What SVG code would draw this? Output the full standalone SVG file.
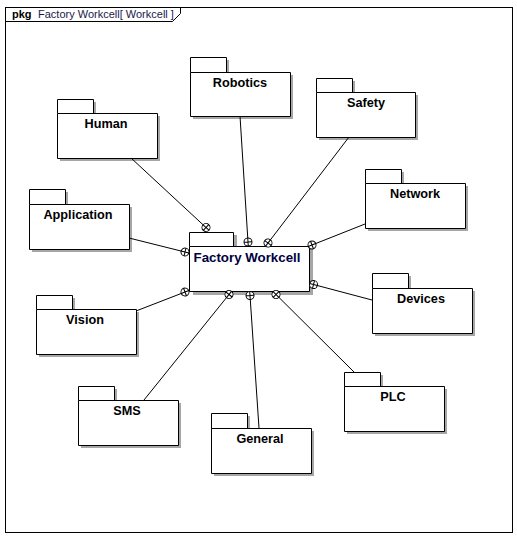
<svg xmlns="http://www.w3.org/2000/svg" width="517" height="538" viewBox="0 0 517 538">
<defs>
<marker id="nest" viewBox="-5 -5 10 10" refX="0" refY="0" markerWidth="10" markerHeight="10" markerUnits="userSpaceOnUse" orient="auto">
<circle cx="0" cy="0" r="4" fill="#fff" stroke="#000" stroke-width="1"/>
<path d="M-4,0H4M0,-4V4" stroke="#000" stroke-width="1"/>
</marker>
</defs>
<style>
.sh{fill:#a6a6a6;stroke:none}
.pk{fill:#fff;stroke:#000;stroke-width:1}
.lb{font-family:"Liberation Sans",Arial,sans-serif;font-weight:bold;font-size:12.7px;fill:#000;text-anchor:middle}
.cl{font-size:13.3px;fill:#000040}
.cn{stroke:#000;stroke-width:1;fill:none;marker-end:url(#nest)}
</style>
<rect width="517" height="538" fill="#fff"/>
<g id="frame">
<rect x="5.5" y="7.5" width="507" height="525" fill="none" stroke="#000"/>
<path d="M5.5,21.5H172.5L180.5,13.5V7.5" fill="none" stroke="#000"/>
<text x="12" y="18" font-family="Liberation Sans,Arial,sans-serif" font-size="11px" fill="#000"><tspan font-weight="bold">pkg</tspan><tspan x="38" fill="#1a1a4d">Factory Workcell[ Workcell ]</tspan></text>
</g>
<g id="human">
<path class="sh" d="M60,102h36v14h64v45h-100z"/>
<path class="pk" d="M57.5,113.5v-14h36v14M57.5,113.5h100v45h-100z"/>
<text class="lb" x="106" y="128">Human</text>
</g>
<g id="robotics">
<path class="sh" d="M193,60h36v15h64v44h-100z"/>
<path class="pk" d="M190.5,72.5v-15h36v15M190.5,72.5h100v44h-100z"/>
<text class="lb" x="240" y="87">Robotics</text>
</g>
<g id="safety">
<path class="sh" d="M319,81h36v14h63v45h-99z"/>
<path class="pk" d="M316.5,92.5v-14h36v14M316.5,92.5h99v45h-99z"/>
<text class="lb" x="366" y="107">Safety</text>
</g>
<g id="network">
<path class="sh" d="M368,172h36v14h64v45h-100z"/>
<path class="pk" d="M365.5,183.5v-14h36v14M365.5,183.5h100v45h-100z"/>
<text class="lb" x="415" y="198">Network</text>
</g>
<g id="application">
<path class="sh" d="M32,192h36v15h64v45h-100z"/>
<path class="pk" d="M29.5,204.5v-15h36v15M29.5,204.5h100v45h-100z"/>
<text class="lb" x="78" y="219">Application</text>
</g>
<g id="factory-workcell">
<path class="sh" d="M193,235h44v14h76v46h-120z"/>
<path class="pk" d="M189.5,246.5v-14h44v14M189.5,246.5h120v45h-120z"/>
<text class="lb cl" x="247" y="262">Factory Workcell</text>
</g>
<g id="devices">
<path class="sh" d="M375,276h36v15h64v45h-100z"/>
<path class="pk" d="M372.5,288.5v-15h36v15M372.5,288.5h100v45h-100z"/>
<text class="lb" x="421" y="303">Devices</text>
</g>
<g id="vision">
<path class="sh" d="M39,298h36v14h64v45h-100z"/>
<path class="pk" d="M36.5,309.5v-14h36v14M36.5,309.5h100v45h-100z"/>
<text class="lb" x="85" y="324">Vision</text>
</g>
<g id="plc">
<path class="sh" d="M347,375h36v14h64v45h-100z"/>
<path class="pk" d="M344.5,386.5v-14h36v14M344.5,386.5h100v45h-100z"/>
<text class="lb" x="393" y="401">PLC</text>
</g>
<g id="sms">
<path class="sh" d="M81,389h36v14h64v45h-100z"/>
<path class="pk" d="M78.5,400.5v-14h36v14M78.5,400.5h100v45h-100z"/>
<text class="lb" x="127" y="415">SMS</text>
</g>
<g id="general">
<path class="sh" d="M214,416h36v15h64v45h-100z"/>
<path class="pk" d="M211.5,428.5v-15h36v15M211.5,428.5h100v45h-100z"/>
<text class="lb" x="260" y="443">General</text>
</g>
<g id="connectors">
<line class="cn" x1="131" y1="158" x2="206" y2="227.5"/>
<line class="cn" x1="240" y1="116" x2="248" y2="242"/>
<line class="cn" x1="349" y1="137" x2="268" y2="243"/>
<line class="cn" x1="365" y1="224" x2="312" y2="245"/>
<line class="cn" x1="129" y1="238" x2="185" y2="252"/>
<line class="cn" x1="136" y1="311" x2="185" y2="292"/>
<line class="cn" x1="144" y1="400" x2="229" y2="294.5"/>
<line class="cn" x1="259" y1="428" x2="250" y2="295.5"/>
<line class="cn" x1="354" y1="372" x2="276" y2="294.5"/>
<line class="cn" x1="372" y1="300" x2="313.5" y2="284.5"/>
</g>
</svg>
